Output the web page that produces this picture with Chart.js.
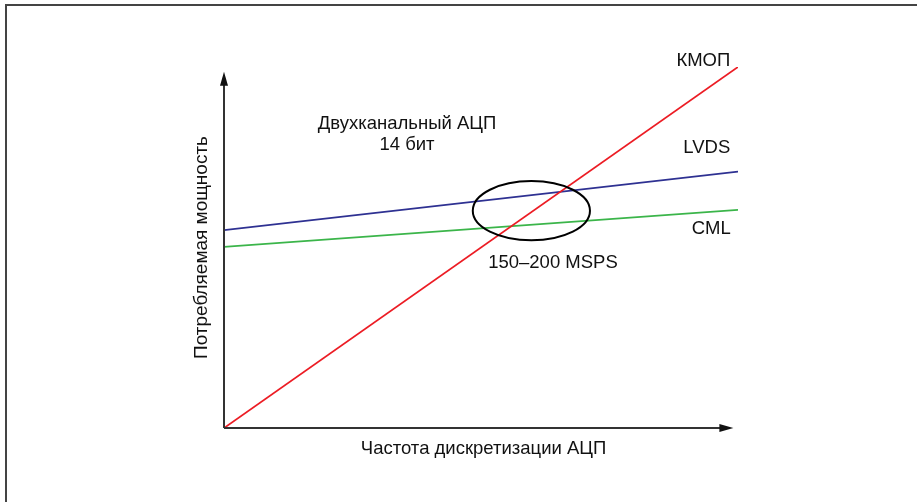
<!DOCTYPE html>
<html>
<head>
<meta charset="utf-8">
<script src="https://cdn.jsdelivr.net/npm/chart.js@4/dist/chart.umd.min.js"></script>
<style>
  html, body { margin: 0; padding: 0; background: #fff; }
  canvas { display: block; }
</style>
</head>
<body>
<canvas id="powerChart" width="917" height="502"></canvas>
<script>
// Data (arbitrary units)
const freq = [0, 10];
const cmosPower = [0, 10];
const lvdsPower = [5.48, 7.10];
const cmlPower = [5.02, 6.04];

const seriesNames = ['КМОП', 'LVDS', 'CML'];
const seriesColors = ['#ec1c24', '#2e3192', '#3bb54a'];

// where each name sits (data units): right edge x, middle y
const nameX = [9.85, 9.85, 9.86];
const nameY = [10.17, 7.76, 5.51];

// x / y axis extents (arrow tips)
const xAxisEnd = 9.91;
const yAxisEnd = 9.87;

// circled region 150–200 MSPS
const ringCenter = [5.98, 6.02];
const ringRadius = [1.14, 0.82];

const captionLines = ['Двухканальный АЦП', '14 бит'];
const captionPos = [3.56, 8.42];
const ringLabel = '150–200 MSPS';
const ringLabelPos = [6.4, 4.57];

const xTitle = 'Частота дискретизации АЦП';
const yTitle = 'Потребляемая мощность';

const FONT = '18.5px "Liberation Sans", Arial, sans-serif';
const Y_FONT = '19px "Liberation Sans", Arial, sans-serif';

function toPoints(ys) {
    return freq.map((x, i) => ({ x: x, y: ys[i] }));
}

// Draws the frame, arrows, ring and all text
const decorations = {
    id: 'decorations',
    afterDatasetsDraw(chart) {
        const ctx = chart.ctx;
        const xs = chart.scales.x;
        const ys = chart.scales.y;
        const x0 = xs.getPixelForValue(0);
        const y0 = ys.getPixelForValue(0);

        ctx.save();

        // outer frame (cut off at right and bottom)
        ctx.strokeStyle = '#444';
        ctx.lineWidth = 2;
        ctx.beginPath();
        ctx.moveTo(6, chart.height + 5);
        ctx.lineTo(6, 5);
        ctx.lineTo(chart.width + 5, 5);
        ctx.stroke();

        // axes with arrow heads
        const xTip = xs.getPixelForValue(xAxisEnd);
        const yTip = ys.getPixelForValue(yAxisEnd);
        ctx.strokeStyle = '#333';
        ctx.fillStyle = '#111';
        ctx.lineWidth = 2;
        ctx.beginPath();
        ctx.moveTo(x0, y0);
        ctx.lineTo(xTip - 10, y0);
        ctx.moveTo(x0, y0);
        ctx.lineTo(x0, yTip + 10);
        ctx.stroke();

        ctx.beginPath();
        ctx.moveTo(xTip, y0);
        ctx.lineTo(xTip - 14, y0 - 4);
        ctx.lineTo(xTip - 14, y0 + 4);
        ctx.closePath();
        ctx.fill();

        ctx.beginPath();
        ctx.moveTo(x0, yTip);
        ctx.lineTo(x0 - 4, yTip + 14);
        ctx.lineTo(x0 + 4, yTip + 14);
        ctx.closePath();
        ctx.fill();

        // ring
        const cx = xs.getPixelForValue(ringCenter[0]);
        const cy = ys.getPixelForValue(ringCenter[1]);
        const rx = xs.getPixelForValue(ringCenter[0] + ringRadius[0]) - cx;
        const ry = cy - ys.getPixelForValue(ringCenter[1] + ringRadius[1]);
        ctx.strokeStyle = '#000';
        ctx.lineWidth = 2;
        ctx.beginPath();
        ctx.ellipse(cx, cy, rx, ry, 0, 0, Math.PI * 2);
        ctx.stroke();

        // text
        ctx.font = FONT;
        ctx.fillStyle = '#111';
        ctx.textBaseline = 'middle';

        ctx.textAlign = 'right';
        seriesNames.forEach((name, i) => {
            ctx.fillText(name, xs.getPixelForValue(nameX[i]), ys.getPixelForValue(nameY[i]));
        });

        ctx.textAlign = 'center';
        const capX = xs.getPixelForValue(captionPos[0]);
        const capY = ys.getPixelForValue(captionPos[1]);
        captionLines.forEach((line, i) => {
            ctx.fillText(line, capX, capY + i * 21);
        });

        ctx.fillText(ringLabel, xs.getPixelForValue(ringLabelPos[0]), ys.getPixelForValue(ringLabelPos[1]));

        ctx.fillText(xTitle, xs.getPixelForValue(5.05), y0 + 21);

        ctx.font = Y_FONT;
        ctx.translate(x0 - 22, ys.getPixelForValue(5.0));
        ctx.rotate(-Math.PI / 2);
        ctx.fillText(yTitle, 0, 0);

        ctx.restore();
    }
};

const ctx = document.getElementById('powerChart').getContext('2d');
new Chart(ctx, {
    type: 'scatter',
    data: {
        datasets: [
            { label: seriesNames[0], data: toPoints(cmosPower), borderColor: seriesColors[0] },
            { label: seriesNames[1], data: toPoints(lvdsPower), borderColor: seriesColors[1] },
            { label: seriesNames[2], data: toPoints(cmlPower), borderColor: seriesColors[2] }
        ].map(ds => Object.assign(ds, {
            showLine: true,
            borderWidth: 1.8,
            pointRadius: 0,
            fill: false
        }))
    },
    options: {
        responsive: false,
        animation: false,
        layout: { padding: { left: 224, right: 179, top: 67, bottom: 74 } },
        scales: {
            x: { type: 'linear', min: 0, max: 10, display: false },
            y: { type: 'linear', min: 0, max: 10, display: false }
        },
        plugins: {
            legend: { display: false },
            tooltip: { enabled: false }
        }
    },
    plugins: [decorations]
});
</script>
</body>
</html>
